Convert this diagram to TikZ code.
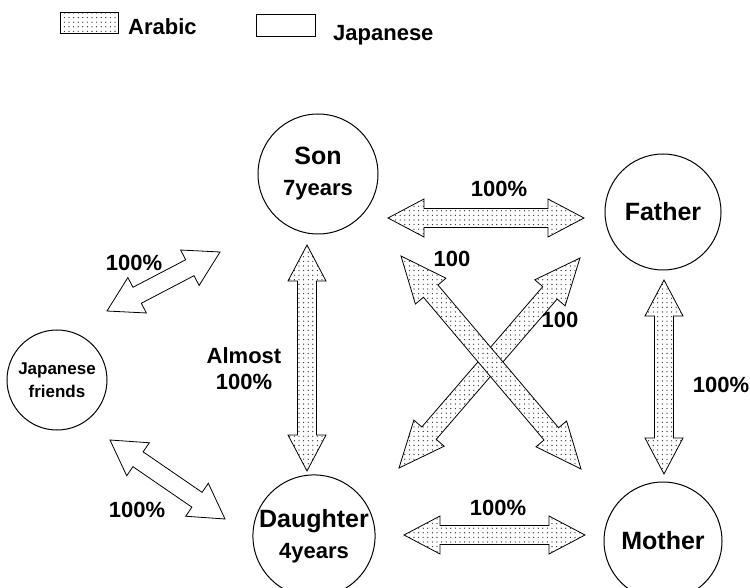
\documentclass[tikz,border=0pt]{standalone}
\usepackage{fontspec}
\setmainfont{Liberation Sans}
\usetikzlibrary{calc,patterns.meta}

% Block double arrow between two tips:
% #1 style, #2 tip A, #3 tip B, #4 name prefix,
% #5 head length, #6 half head width, #7 half shaft width
\newcommand\dblarrow[7]{%
  \coordinate (#4-ha) at ($(#2)!#5!(#3)$);
  \coordinate (#4-hb) at ($(#3)!#5!(#2)$);
  \draw[#1] (#2)
    -- ($(#4-ha)!#6!90:(#3)$) -- ($(#4-ha)!#7!90:(#3)$)
    -- ($(#4-hb)!#7!-90:(#2)$) -- ($(#4-hb)!#6!-90:(#2)$)
    -- (#3)
    -- ($(#4-hb)!#6!90:(#2)$) -- ($(#4-hb)!#7!90:(#2)$)
    -- ($(#4-ha)!#7!-90:(#3)$) -- ($(#4-ha)!#6!-90:(#3)$)
    -- cycle;
}

\begin{document}
\begin{tikzpicture}[x=1pt,y=-1pt,
  person/.style={draw,circle,line width=1pt,inner sep=0pt,align=center,
    font=\bfseries\fontsize{25}{31}\selectfont},
  label/.style={font=\bfseries\fontsize{22}{26}\selectfont,align=center,inner sep=0pt},
  legendtext/.style={font=\bfseries\fontsize{22}{26}\selectfont,inner sep=0pt,anchor=west},
  arabic/.style={draw,line width=0.8pt,line join=miter,preaction={fill=white},
    pattern={Dots[distance=4.6pt,radius=0.65pt]},pattern color=black!85},
  japanese/.style={draw,line width=0.8pt,line join=miter,fill=white}]

\useasboundingbox (0,0) rectangle (750,588);

% legend
\node[arabic,minimum width=58pt,minimum height=21pt,inner sep=0pt] (legA) at (89,23) {};
\node[legendtext] (legAt) at (128,27) {Arabic};
\node[japanese,minimum width=59pt,minimum height=22pt,inner sep=0pt] (legJ) at (286,25) {};
\node[legendtext] (legJt) at (333,35) {Japanese};

% people
\node[person,minimum size=120pt] (son) at (318,174)
  {Son\\{\fontsize{22}{31}\selectfont 7years}};
\node[person,minimum size=116pt] (father) at (663,212) {Father};
\node[person,minimum size=100pt,font=\bfseries\fontsize{17}{23}\selectfont] (friends) at (57,380)
  {Japanese\\friends};
\node[person,minimum size=112pt] (daughter) at (314,536)
  {Daughter\\{\fontsize{22}{31}\selectfont 4years}};
\node[person,minimum size=118pt] (mother) at (663,541) {Mother};

% arrow tips
\coordinate (sf1) at (388,218);   \coordinate (sf2) at (584,218);
\coordinate (dm1) at (404,535);   \coordinate (dm2) at (585,535);
\coordinate (sd1) at (307,245);   \coordinate (sd2) at (307,471);
\coordinate (fm1) at (664,280);   \coordinate (fm2) at (664,474);
\coordinate (js1) at (107,311);   \coordinate (js2) at (220,252);
\coordinate (jd1) at (110,440);   \coordinate (jd2) at (225,519);
\coordinate (x11) at (580,258);   \coordinate (x12) at (399,468);
\coordinate (x21) at (401,256);   \coordinate (x22) at (581,469);

% Japanese spoken
\dblarrow{japanese}{js1}{js2}{js}{34pt}{20pt}{9pt}
\dblarrow{japanese}{jd1}{jd2}{jd}{34pt}{20pt}{9pt}

% Arabic spoken
\dblarrow{arabic}{sf1}{sf2}{sf}{36pt}{19pt}{9.5pt}
\dblarrow{arabic}{dm1}{dm2}{dm}{36pt}{19pt}{9.5pt}
\dblarrow{arabic}{sd1}{sd2}{sd}{36pt}{19pt}{9.5pt}
\dblarrow{arabic}{fm1}{fm2}{fm}{36pt}{19pt}{9.5pt}
\dblarrow{arabic}{x11}{x12}{xa}{46pt}{20pt}{9.5pt}
\dblarrow{arabic}{x21}{x22}{xb}{46pt}{20pt}{9.5pt}

% labels
\node[label] (lsf) at (499,189) {100\%};
\node[label] (ldm) at (498,508) {100\%};
\node[label] (lsd) at (244,369) {Almost\\100\%};
\node[label] (lfm) at (721,385) {100\%};
\node[label] (ljs) at (134,263) {100\%};
\node[label] (ljd) at (137,510) {100\%};
\node[label] (lxb) at (452,259) {100};
\node[label] (lxa) at (560,320) {100};

\end{tikzpicture}
\end{document}
